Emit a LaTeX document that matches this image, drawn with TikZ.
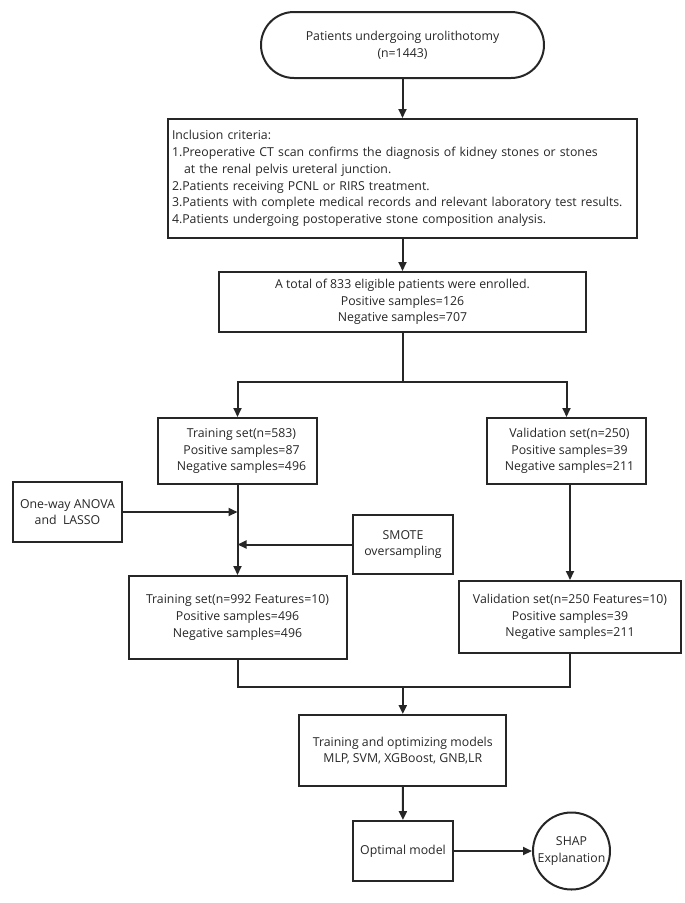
\documentclass[tikz,border=0pt]{standalone}
\usepackage{fontspec}
\setmainfont{Open Sans}
\usetikzlibrary{arrows.meta,calc}
\begin{document}
\begin{tikzpicture}[x=1pt,y=-1pt,
  every node/.style={font=\fontsize{12.3}{16.7}\selectfont, text=black!85},
  box/.style={draw=black!85, line width=2pt, rectangle, align=center, inner sep=2pt},
  arr/.style={draw=black!85, line width=2pt, -{Triangle[length=9pt,width=8pt]}},
  ln/.style={draw=black!85, line width=2pt}]
\useasboundingbox (0,0) rectangle (685,903);
% nodes
\node[box, rounded corners=33pt, minimum width=283pt, minimum height=66pt] (term) at (402.5,45) {Patients undergoing urolithotomy\\(n=1443)};
\node[box, align=left, text width=461pt, inner xsep=4pt, minimum height=119pt] (incl) at (402.5,178.5) {Inclusion criteria:\\
1.Preoperative CT scan confirms the diagnosis of kidney stones or stones\\
\hspace*{12pt}at the renal pelvis ureteral junction.\\
2.Patients receiving PCNL or RIRS treatment.\\
3.Patients with complete medical records and relevant laboratory test results.\\
4.Patients undergoing postoperative stone composition analysis.};
\node[box, minimum width=367pt, minimum height=60pt] (total) at (402.5,302) {A total of 833 eligible patients were enrolled.\\Positive samples=126\\Negative samples=707};
\node[box, minimum width=159pt, minimum height=66pt] (train) at (237.5,451) {\hspace*{8pt}Training set(n=583)\\\hspace*{8pt}Positive samples=87\\\hspace*{8pt}Negative samples=496};
\node[box, minimum width=159pt, minimum height=66pt] (val) at (566.5,451) {\hspace*{6pt}Validation set(n=250)\\\hspace*{6pt}Positive samples=39\\\hspace*{6pt}Negative samples=211};
\node[box, minimum width=109pt, minimum height=60pt] (anova) at (67.5,512) {One-way ANOVA\\and\ \ LASSO};
\node[box, minimum width=100pt, minimum height=59pt] (smote) at (403,544.5) {SMOTE\\oversampling};
\node[box, minimum width=218pt, minimum height=83pt] (train2) at (237.5,617.5) {Training set(n=992 Features=10)\\Positive samples=496\\Negative samples=496};
\node[box, minimum width=222pt, minimum height=72pt] (val2) at (570,617) {Validation set(n=250 Features=10)\\Positive samples=39\\Negative samples=211};
\node[box, minimum width=207pt, minimum height=71pt] (models) at (402.8,750.5) {Training and optimizing models\\MLP, SVM, XGBoost, GNB,LR};
\node[box, minimum width=100pt, minimum height=60pt] (opt) at (403,851) {Optimal model};
\node[box, circle, minimum size=77pt, inner sep=0pt] (shap) at (571.5,851) {SHAP\\Explanation};
\coordinate (br) at (402.5,382);
\coordinate (mg) at (402.8,687);
% connectors
\draw[arr] (term) -- (incl);
\draw[arr] (incl) -- (total);
\draw[ln] (total.south) -- (br);
\draw[arr] (br) -| (train.north);
\draw[arr] (br) -| (val.north);
\draw[arr] (train.south) -- (train2.north);
\draw[arr] (anova.east) -- (anova.east -| train.south);
\draw[arr] (smote.west) -- (smote.west -| train.south);
\draw[arr] (val2.north |- val.south) -- (val2.north);
\draw[ln] (train2.south) |- (mg);
\draw[ln] (val2.south) |- (mg);
\draw[arr] (mg) -- (models.north);
\draw[arr] (models) -- (opt);
\draw[arr] (opt) -- (shap);
\end{tikzpicture}
\end{document}
